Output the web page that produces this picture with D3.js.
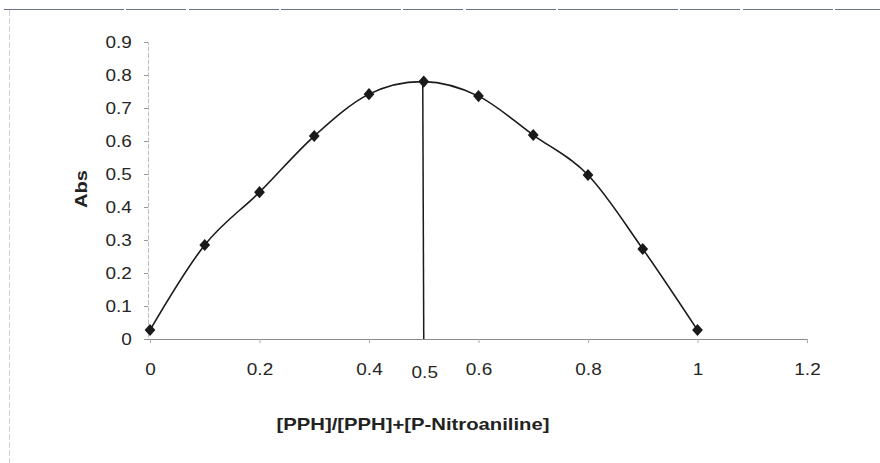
<!DOCTYPE html>
<html>
<head>
<meta charset="utf-8">
<script src="https://cdn.jsdelivr.net/npm/d3@7/dist/d3.min.js"></script>
<style>
  html, body { margin: 0; padding: 0; background: #fff; }
  svg { display: block; }
</style>
</head>
<body>
<svg id="chart" width="880" height="463"></svg>
<script>
// ---- data ----
const moleFraction = [0, 0.1, 0.2, 0.3, 0.4, 0.5, 0.6, 0.7, 0.8, 0.9, 1.0];
const absValues    = [0.027, 0.285, 0.445, 0.615, 0.742, 0.780, 0.736, 0.618, 0.497, 0.273, 0.027];
const xTickValues  = [0, 0.2, 0.4, 0.6, 0.8, 1, 1.2];
const yTickValues  = [0, 0.1, 0.2, 0.3, 0.4, 0.5, 0.6, 0.7, 0.8, 0.9];
const peakX = 0.5;
const peakLabel = "0.5";
const xTitle = "[PPH]/[PPH]+[P-Nitroaniline]";
const yTitle = "Abs";

const svg = d3.select("#chart");
const FONT = "'Liberation Sans', Arial, sans-serif";
const STRETCH = 1.15;
const TXT = "#262626";

// frame (top and left border of the scanned chart area)
svg.append("line").attr("x1", 4).attr("x2", 880).attr("y1", 9.5).attr("y2", 9.5)
  .attr("stroke", "#6d7290").attr("stroke-width", 1).attr("stroke-dasharray", "120,2,60,3,90,2");
svg.append("line").attr("x1", 9.5).attr("x2", 9.5).attr("y1", 10).attr("y2", 463)
  .attr("stroke", "#cfcfcf").attr("stroke-width", 1).attr("stroke-dasharray", "6,2");

const x = d3.scaleLinear().domain([0, 1.2]).range([150, 807]);
const y = d3.scaleLinear().domain([0, 0.9]).range([339, 42]);

// y axis
const yAxis = svg.append("g").attr("transform", `translate(${x(0) - 2},0)`)
  .call(d3.axisLeft(y).tickValues(yTickValues).tickSize(4).tickPadding(10)
    .tickFormat(d => d === 0 ? "0" : d3.format(".1f")(d)));
yAxis.select(".domain").attr("stroke", "#bdbdbd").attr("stroke-dasharray", "5,1.5");
yAxis.selectAll(".tick line").attr("stroke", "#999");
yAxis.selectAll("text").attr("font-family", FONT).attr("font-size", 16.5)
  .attr("fill", TXT).attr("transform", `scale(${STRETCH},1)`);

// x axis
const xAxis = svg.append("g").attr("transform", `translate(0,${y(0)})`)
  .call(d3.axisBottom(x).tickValues(xTickValues).tickSize(4).tickPadding(20)
    .tickFormat(d => d3.format("~g")(d)));
xAxis.select(".domain").attr("stroke", "#8a8a8a").attr("stroke-width", 1.2)
  .attr("d", `M${x(0) - 3},0.5H${x(1.2)}`);
xAxis.selectAll(".tick line").attr("stroke", "#aaa");
xAxis.selectAll("text").attr("font-family", FONT).attr("font-size", 16.5)
  .attr("fill", TXT).attr("transform", `scale(${STRETCH},1)`);

// peak marker line
svg.append("line")
  .attr("x1", x(peakX) - 1).attr("x2", x(peakX))
  .attr("y1", y(absValues[moleFraction.indexOf(peakX)])).attr("y2", y(0))
  .attr("stroke", "#1a1a1a").attr("stroke-width", 1.5);

svg.append("text")
  .attr("transform", `translate(${x(peakX) + 1},${y(0) + 39}) scale(${STRETCH},1)`)
  .attr("text-anchor", "middle")
  .attr("font-family", FONT).attr("font-size", 16.5).attr("fill", TXT)
  .text(peakLabel);

// smooth line
const pts = moleFraction.map((m, i) => [m, absValues[i]]);
const line = d3.line().x(d => x(d[0])).y(d => y(d[1])).curve(d3.curveCardinal.tension(0));
svg.append("path").datum(pts).attr("d", line)
  .attr("fill", "none").attr("stroke", "#1a1a1a").attr("stroke-width", 1.6);

// diamond markers
const sym = d3.symbol().type(d3.symbolSquare).size(58);
svg.append("g").selectAll("path").data(pts).join("path")
  .attr("d", sym)
  .attr("transform", d => `translate(${x(d[0])},${y(d[1])}) scale(1,1.12) rotate(45)`)
  .attr("fill", "#1a1a1a");

// axis titles
svg.append("text")
  .attr("x", 413).attr("y", 430)
  .attr("text-anchor", "middle")
  .attr("font-family", FONT).attr("font-size", 16.5).attr("font-weight", "bold")
  .attr("fill", "#222")
  .attr("textLength", 273).attr("lengthAdjust", "spacingAndGlyphs")
  .text(xTitle);

svg.append("text")
  .attr("transform", "translate(87,189) rotate(-90)")
  .attr("text-anchor", "middle")
  .attr("font-family", FONT).attr("font-size", 17).attr("font-weight", "bold")
  .attr("fill", "#222")
  .attr("textLength", 38).attr("lengthAdjust", "spacingAndGlyphs")
  .text(yTitle);
</script>
</body>
</html>
